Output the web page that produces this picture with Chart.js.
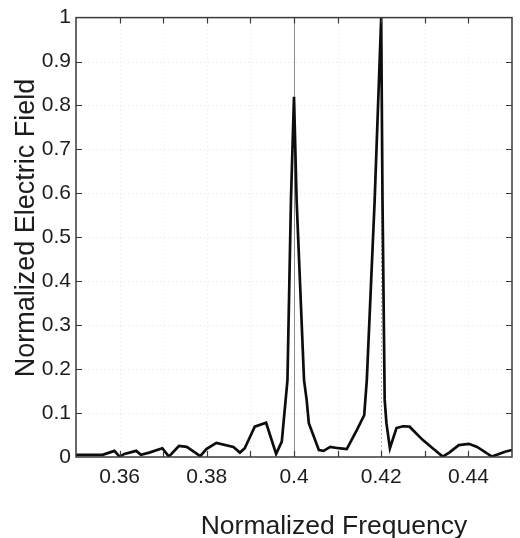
<!DOCTYPE html>
<html>
<head>
<meta charset="utf-8">
<script src="https://cdn.jsdelivr.net/npm/chart.js@4/dist/chart.umd.min.js"></script>
<style>
html,body{margin:0;padding:0;background:#ffffff;}
canvas{display:block;}
</style>
</head>
<body>
<canvas id="c" width="520" height="538"></canvas>
<script>
// ---- data ----
const frequency = [
  0.3500, 0.3561, 0.3588, 0.3600, 0.3611, 0.3638, 0.3649, 0.3668, 0.3698, 0.3713,
  0.3736, 0.3754, 0.3785, 0.3799, 0.3822, 0.3861, 0.3876, 0.3887, 0.3910, 0.3936,
  0.3959, 0.3972, 0.3985, 0.3993, 0.4000, 0.4006, 0.4023, 0.4029, 0.4034, 0.4057,
  0.4068, 0.4083, 0.4102, 0.4121, 0.4144, 0.4161, 0.4167, 0.4185, 0.4200, 0.4203,
  0.4208, 0.4212, 0.4220, 0.4235, 0.4250, 0.4265, 0.4295, 0.4318, 0.4341, 0.4356,
  0.4378, 0.4401, 0.4420, 0.4454, 0.4484, 0.4500
];
const field = [
  0.005, 0.005, 0.014, 0.001, 0.007, 0.014, 0.005, 0.010, 0.020, 0.001,
  0.025, 0.023, 0.002, 0.018, 0.032, 0.023, 0.010, 0.020, 0.069, 0.078,
  0.007, 0.035, 0.175, 0.584, 0.820, 0.584, 0.175, 0.130, 0.077, 0.016,
  0.014, 0.023, 0.020, 0.018, 0.061, 0.095, 0.175, 0.584, 1.000, 0.584,
  0.130, 0.077, 0.020, 0.066, 0.070, 0.069, 0.039, 0.020, 0.001, 0.010,
  0.027, 0.030, 0.023, 0.001, 0.012, 0.016
];
const xLabelledTicks = [0.36, 0.38, 0.40, 0.42, 0.44];
const yTickLabels = ['0','0.1','0.2','0.3','0.4','0.5','0.6','0.7','0.8','0.9','1'];
const xTitle = 'Normalized Frequency';
const yTitle = 'Normalized Electric Field';

const FONT = "'Liberation Sans', Arial, Helvetica, sans-serif";
const TEXT = '#1c1c1c';

const framePlugin = {
  id: 'frame',
  beforeDatasetsDraw(chart) {
    const {ctx, chartArea: a, scales: {x, y}} = chart;
    ctx.save();
    ctx.lineWidth = 1;
    x.ticks.forEach(t => {
      const k = Math.round(t.value * 100);
      if (k === 35 || k === 45) return;
      const px = Math.round(x.getPixelForValue(t.value)) + 0.5;
      if (k === 40) { ctx.strokeStyle = '#8c8c8c'; ctx.setLineDash([]); }
      else if (k === 42) { ctx.strokeStyle = '#6a6a6a'; ctx.setLineDash([1, 3]); }
      else { ctx.strokeStyle = '#e4e4e4'; ctx.setLineDash([1, 3]); }
      ctx.beginPath(); ctx.moveTo(px, a.top); ctx.lineTo(px, a.bottom); ctx.stroke();
    });
    ctx.strokeStyle = '#e4e4e4'; ctx.setLineDash([1, 3]);
    y.ticks.forEach(t => {
      const k = Math.round(t.value * 10);
      if (k === 0 || k === 10) return;
      const py = Math.round(y.getPixelForValue(t.value)) + 0.5;
      ctx.beginPath(); ctx.moveTo(a.left, py); ctx.lineTo(a.right, py); ctx.stroke();
    });
    ctx.restore();
  },
  afterDraw(chart) {
    const {ctx, chartArea: a, scales: {x, y}} = chart;
    ctx.save();
    ctx.setLineDash([]);
    ctx.strokeStyle = '#3a3a3a';
    ctx.lineWidth = 1.5;
    ctx.strokeRect(a.left, a.top, a.right - a.left, a.bottom - a.top);
    const L = 6;
    ctx.lineWidth = 1.2;
    x.ticks.forEach(t => {
      const k = Math.round(t.value * 100);
      if (k === 35 || k === 45) return;
      const px = Math.round(x.getPixelForValue(t.value)) + 0.5;
      ctx.beginPath();
      ctx.moveTo(px, a.bottom); ctx.lineTo(px, a.bottom - L);
      ctx.moveTo(px, a.top); ctx.lineTo(px, a.top + L);
      ctx.stroke();
    });
    y.ticks.forEach(t => {
      const k = Math.round(t.value * 10);
      if (k === 0 || k === 10) return;
      const py = Math.round(y.getPixelForValue(t.value)) + 0.5;
      ctx.beginPath();
      ctx.moveTo(a.left, py); ctx.lineTo(a.left + L, py);
      ctx.moveTo(a.right, py); ctx.lineTo(a.right - L, py);
      ctx.stroke();
    });
    // axis titles
    ctx.fillStyle = TEXT;
    ctx.textAlign = 'center';
    ctx.textBaseline = 'alphabetic';
    ctx.font = '26.5px ' + FONT;
    ctx.fillText(xTitle, 334, 534);
    ctx.font = '27px ' + FONT;
    ctx.translate(34, 228);
    ctx.rotate(-Math.PI / 2);
    ctx.fillText(yTitle, 0, 0);
    ctx.restore();
  }
};

const points = frequency.map((f, i) => ({x: f, y: field[i]}));

new Chart(document.getElementById('c'), {
  type: 'line',
  data: {
    datasets: [{
      data: points,
      borderColor: '#0d0d0d',
      borderWidth: 2.7,
      pointRadius: 0,
      tension: 0,
      fill: false
    }]
  },
  options: {
    responsive: false,
    animation: false,
    layout: {padding: {top: 17, right: 3, left: 0, bottom: 0}},
    plugins: {legend: {display: false}, tooltip: {enabled: false}},
    scales: {
      x: {
        type: 'linear',
        min: 0.35, max: 0.45,
        grid: {display: false, drawTicks: false},
        border: {display: false},
        afterFit(s) { s.height = 81; },
        ticks: {
          stepSize: 0.01,
          autoSkip: false,
          maxRotation: 0,
          padding: 8,
          color: TEXT,
          font: {family: FONT, size: 21},
          callback(v) {
            const k = Math.round(v * 100);
            const hit = xLabelledTicks.find(t => Math.round(t * 100) === k);
            return hit === undefined ? '' : String(hit);
          }
        }
      },
      y: {
        type: 'linear',
        min: 0, max: 1,
        grid: {display: false, drawTicks: false},
        border: {display: false},
        afterFit(s) { s.width = 76; },
        ticks: {
          stepSize: 0.1,
          autoSkip: false,
          padding: 5,
          color: TEXT,
          font: {family: FONT, size: 21},
          callback(v) { return yTickLabels[Math.round(v * 10)]; }
        }
      }
    }
  },
  plugins: [framePlugin]
});
</script>
</body>
</html>
